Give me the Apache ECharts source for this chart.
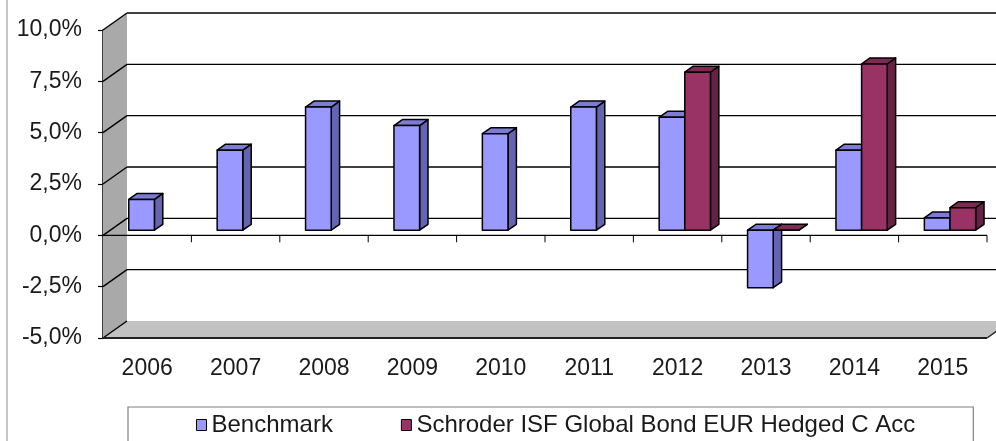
<!DOCTYPE html>
<html lang="en">
<head>
    <meta charset="UTF-8">
    <title>Benchmark vs Schroder ISF Global Bond</title>
    <style>
        html, body { margin: 0; padding: 0; background: #fff; }
        .container { width: 996px; height: 441px; }
    </style>
    <script src="https://cdn.jsdelivr.net/npm/echarts@6/dist/echarts.min.js"></script>
</head>
<body>
    <div class="container"></div>
    <script>
        // data
        var years = ['2006', '2007', '2008', '2009', '2010', '2011', '2012', '2013', '2014', '2015'];
        var benchmark = [1.5, 3.9, 6.0, 5.1, 4.7, 6.0, 5.5, -2.8, 3.9, 0.6];
        var schroder = [null, null, null, null, null, null, 7.7, 0.0, 8.1, 1.1];
        var yTicks = [-5, -2.5, 0, 2.5, 5, 7.5, 10];
        var seriesNames = ['Benchmark', 'Schroder ISF Global Bond EUR Hedged C Acc'];

        // 3d look: offset of the back wall from the front plane (px)
        var DX = 24, DY = -17;
        var BAR_POS = 0.3;   // where the bars sit in the depth
        var BAR_DEPTH = 0.35;
        var BAR_W = 0.29;    // of a category

        var FONT = '"Liberation Sans", Arial, sans-serif';

        function fmt(v) {
            return v.toFixed(1).replace('.', ',') + '%';
        }

        // walls, floor and grid lines
        function renderWalls(params, api) {
            var w = api.size([1, 0])[0];
            var xl = api.coord([0, 0])[0] - w / 2;
            var xr = api.coord([years.length - 1, 0])[0] + w / 2;
            var yTop = api.coord([0, yTicks[yTicks.length - 1]])[1];
            var yBot = api.coord([0, yTicks[0]])[1];
            var y0 = api.coord([0, 0])[1];
            var kids = [];
            var line = { stroke: '#000', lineWidth: 1.4 };

            // left wall
            kids.push({ type: 'polygon', shape: { points: [[xl, yTop], [xl + DX, yTop + DY], [xl + DX, yBot + DY], [xl, yBot]] },
                style: { fill: '#a9a9a9' } });
            // floor
            kids.push({ type: 'polygon', shape: { points: [[xl, yBot], [xl + DX, yBot + DY], [xr + DX, yBot + DY], [xr, yBot]] },
                style: { fill: '#c2c2c2' } });

            yTicks.forEach(function (t, k) {
                var y = api.coord([0, t])[1];
                kids.push({ type: 'line', shape: { x1: xl, y1: y, x2: xl + DX, y2: y + DY }, style: line });
                if (k > 0) {
                    kids.push({ type: 'line', shape: { x1: xl + DX, y1: y + DY, x2: xr + DX, y2: y + DY }, style: line });
                }
            });
            // floor front edge
            kids.push({ type: 'line', shape: { x1: xl, y1: yBot, x2: xr, y2: yBot }, style: { stroke: '#222', lineWidth: 2 } });
            kids.push({ type: 'line', shape: { x1: xr, y1: yBot, x2: xr + DX, y2: yBot + DY }, style: { stroke: '#222', lineWidth: 1.4 } });

            // category axis on zero with ticks
            kids.push({ type: 'line', shape: { x1: xl, y1: y0, x2: xr, y2: y0 }, style: line });
            for (var i = 1; i <= years.length; i++) {
                var xt = xl + i * w;
                kids.push({ type: 'line', shape: { x1: xt, y1: y0, x2: xt, y2: y0 + 7 }, style: { stroke: '#000', lineWidth: 1 } });
            }
            return { type: 'group', children: kids };
        }

        function makeBarRenderer(slot, front, side, top) {
            return function (params, api) {
                var i = api.value(0);
                var v = api.value(1);
                if (isNaN(v)) return;
                var w = api.size([1, 0])[0];
                var bw = w * BAR_W;
                var base = api.coord([i, 0]);
                var tip = api.coord([i, v]);
                var sx = BAR_POS * DX, sy = BAR_POS * DY;
                var dx = BAR_DEPTH * DX, dy = BAR_DEPTH * DY;
                var x0 = base[0] - bw + slot * bw + sx;
                var x1 = x0 + bw;
                var yA = Math.min(base[1], tip[1]) + sy;
                var yB = Math.max(base[1], tip[1]) + sy;
                var edge = { stroke: '#000', lineWidth: 1.5, lineJoin: 'round' };
                return {
                    type: 'group',
                    children: [
                        { type: 'polygon', shape: { points: [[x1, yA], [x1 + dx, yA + dy], [x1 + dx, yB + dy], [x1, yB]] },
                            style: Object.assign({ fill: side }, edge) },
                        { type: 'polygon', shape: { points: [[x0, yA], [x0 + dx, yA + dy], [x1 + dx, yA + dy], [x1, yA]] },
                            style: Object.assign({ fill: top }, edge) },
                        { type: 'rect', shape: { x: x0, y: yA, width: bw, height: yB - yA },
                            style: Object.assign({ fill: front }, edge) }
                    ]
                };
            };
        }

        var main = document.getElementsByClassName('container')[0];
        var myChart = echarts.init(main);

        myChart.setOption({
            backgroundColor: '#fff',
            animation: false,
            grid: { left: 103, right: 9, top: 30, bottom: 103 },
            xAxis: {
                type: 'category',
                data: years,
                axisLine: { show: false },
                axisTick: { show: false },
                axisLabel: { margin: 19, fontSize: 23, fontFamily: FONT, color: '#1a1a1a' }
            },
            yAxis: {
                type: 'value',
                min: -5,
                max: 10,
                interval: 2.5,
                splitLine: { show: false },
                axisLine: { show: true, lineStyle: { color: '#000', width: 1.5 } },
                axisTick: { show: true, length: 5, lineStyle: { color: '#000', width: 1.2 } },
                axisLabel: { margin: 21, fontSize: 23, fontFamily: FONT, color: '#1a1a1a', formatter: fmt }
            },
            legend: {
                data: seriesNames,
                left: 128,
                top: 407,
                padding: [6, 58, 40, 68],
                borderColor: '#808080',
                borderWidth: 1.2,
                itemGap: 68,
                itemWidth: 10,
                itemHeight: 11,
                icon: 'rect',
                itemStyle: { borderColor: '#000', borderWidth: 1 },
                textStyle: { fontSize: 24, fontFamily: FONT, color: '#1a1a1a' }
            },
            graphic: [{
                type: 'line',
                shape: { x1: 7, y1: 0, x2: 7, y2: 441 },
                style: { stroke: '#8a8a8a', lineWidth: 1 }
            }],
            series: [
                {
                    type: 'custom',
                    clip: false,
                    silent: true,
                    renderItem: renderWalls,
                    data: [[0, 0]]
                },
                {
                    name: seriesNames[0],
                    type: 'custom',
                    clip: false,
                    itemStyle: { color: '#9999ff' },
                    renderItem: makeBarRenderer(0, '#9999ff', '#6464b0', '#7c7cd6'),
                    encode: { x: 0, y: 1 },
                    data: benchmark.map(function (v, i) { return [i, v == null ? NaN : v]; })
                },
                {
                    name: seriesNames[1],
                    type: 'custom',
                    clip: false,
                    itemStyle: { color: '#993366' },
                    renderItem: makeBarRenderer(1, '#993366', '#662244', '#7e2a54'),
                    encode: { x: 0, y: 1 },
                    data: schroder.map(function (v, i) { return [i, v == null ? NaN : v]; })
                }
            ]
        });
    </script>
</body>
</html>
